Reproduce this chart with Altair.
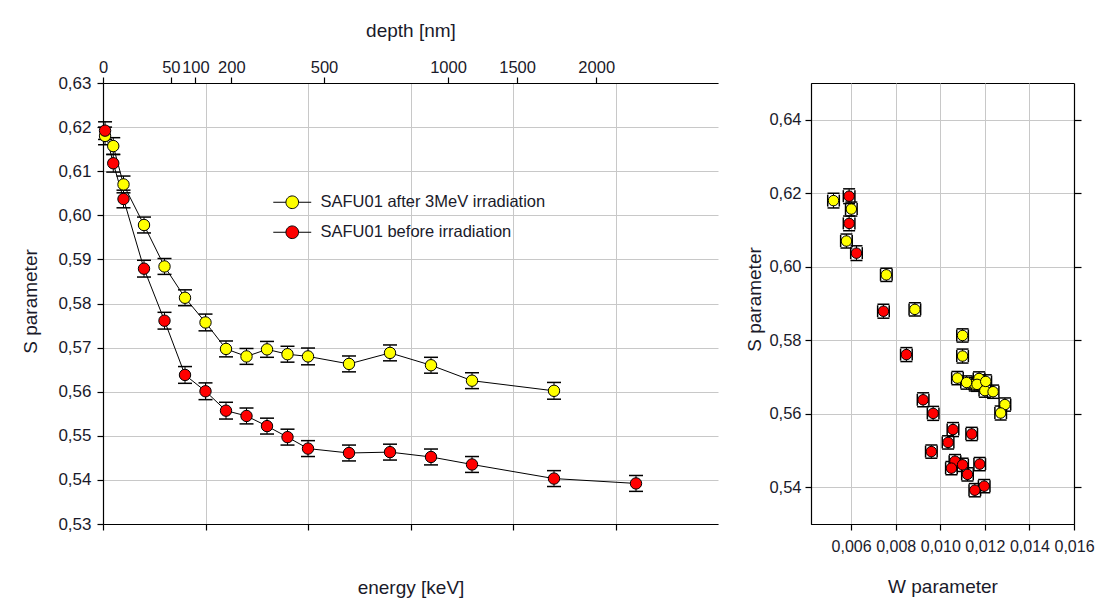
import altair as alt
import pandas as pd

# ---------------- data ----------------
series_names = ["SAFU01 after 3MeV irradiation", "SAFU01 before irradiation"]
series_colors = ["#ffff00", "#ff0000"]

energy_after = [0.1, 0.5, 1, 2, 3, 4, 5, 6, 7, 8, 9, 10, 12, 14, 16, 18, 22]
s_after = [0.6180, 0.6157, 0.6070, 0.5978, 0.5884, 0.5813, 0.5757, 0.5697, 0.5680,
           0.5696, 0.5685, 0.5680, 0.5663, 0.5688, 0.5660, 0.5625, 0.5602]
s_err_after = [0.0020, 0.0019, 0.0019, 0.0018, 0.0018, 0.0018, 0.0019, 0.0018, 0.0018,
               0.0018, 0.0018, 0.0019, 0.0018, 0.0018, 0.0018, 0.0018, 0.0019]
w_after = [0.00521, 0.00601, 0.00579, 0.00758, 0.00886, 0.01100, 0.01100, 0.01077, 0.01155,
           0.01174, 0.01118, 0.01165, 0.01200, 0.01204, 0.01237, 0.01290, 0.01271]

energy_before = [0.1, 0.5, 1, 2, 3, 4, 5, 6, 7, 8, 9, 10, 12, 14, 16, 18, 22, 26]
s_before = [0.6192, 0.6118, 0.6037, 0.5879, 0.5761, 0.5638, 0.5601, 0.5557, 0.5545,
            0.5522, 0.5497, 0.5471, 0.5461, 0.5463, 0.5452, 0.5435, 0.5403, 0.5392]
s_err_before = [0.0020, 0.0020, 0.0020, 0.0019, 0.0019, 0.0019, 0.0019, 0.0019, 0.0018,
                0.0018, 0.0018, 0.0018, 0.0018, 0.0018, 0.0018, 0.0018, 0.0018, 0.0018]
w_before = [0.00591, 0.00591, 0.00624, 0.00745, 0.00848, 0.00923, 0.00968, 0.01057, 0.01141,
            0.01035, 0.00960, 0.01066, 0.01100, 0.01177, 0.01050, 0.01122, 0.01197, 0.01155]
w_err = 0.00026

energy_ticks = [0, 5, 10, 15, 20, 25]
depth_labels = ["0", "50", "100", "200", "500", "1000", "1500", "2000"]
depth_label_energy = [0, 3.31, 4.51, 6.26, 10.78, 16.83, 20.2, 24.06]
s_ticks_left = [0.53, 0.54, 0.55, 0.56, 0.57, 0.58, 0.59, 0.60, 0.61, 0.62, 0.63]
s_ticks_right = [0.54, 0.56, 0.58, 0.60, 0.62, 0.64]
w_ticks = [0.006, 0.008, 0.010, 0.012, 0.014, 0.016]

rows = []
for name, E, S, ES, W in [(series_names[0], energy_after, s_after, s_err_after, w_after),
                          (series_names[1], energy_before, s_before, s_err_before, w_before)]:
    for e, s, es, w in zip(E, S, ES, W):
        rows.append(dict(series=name, energy=e, S=s, lo=s - es, hi=s + es,
                         W=w, wlo=w - w_err, whi=w + w_err))
df = pd.DataFrame(rows)
df_after = df[df.series == series_names[0]]
df_before = df[df.series == series_names[1]]

FONT = "Liberation Sans"
TXT = "#1a1a2a"
GRID = "#c8c8c8"

depth_expr = "".join(
    f"datum.value == {e} ? '{l}' : " for e, l in zip(depth_label_energy, depth_labels)
) + "''"

fill_scale = alt.Scale(domain=series_names, range=series_colors)

# ---------------- left panel ----------------
xs_l = alt.Scale(domain=[0, 30], nice=False, zero=False)
ys_l = alt.Scale(domain=[0.53, 0.63], nice=False, zero=False)

x_bottom = alt.X("energy:Q", scale=xs_l, axis=alt.Axis(
    orient="bottom", values=energy_ticks, labels=False, grid=True, gridColor=GRID,
    tickSize=6, title="energy [keV]", titleY=63, titleBaseline="middle"))
x_top = alt.X("energy:Q", scale=xs_l, axis=alt.Axis(
    orient="top", values=depth_label_energy, labelExpr=depth_expr, grid=False,
    tickSize=6, labelPadding=2, labelFontSize=16.5, labelOverlap=False, labelFlush=False,
    title="depth [nm]", titleY=-53, titleBaseline="middle"))
x_none = alt.X("energy:Q", scale=xs_l, axis=None)

y_axis_l = alt.Axis(
    values=s_ticks_left, labelExpr="replace(format(datum.value, '.2f'), '.', ',')",
    grid=True, gridColor=GRID, tickSize=6, labelPadding=6, labelFontSize=17,
    title="S parameter", titleX=-73, titleY=218, titleAngle=270,
    titleAlign="center", titleBaseline="middle")


def yl(field):
    return alt.Y(field, scale=ys_l, axis=y_axis_l)


line_after = alt.Chart(df_after).mark_line(color="black", strokeWidth=1).encode(x=x_bottom, y=yl("S:Q"))
line_before = alt.Chart(df_before).mark_line(color="black", strokeWidth=1).encode(x=x_top, y=yl("S:Q"))
bars_l = alt.Chart(df).mark_rule(color="black", strokeWidth=1).encode(
    x=x_none, y=yl("lo:Q"), y2="hi:Q")
cap_lo_l = alt.Chart(df).mark_rule(color="black", strokeWidth=1.5, xOffset=-7, x2Offset=7).encode(
    x=x_none, x2="energy:Q", y=yl("lo:Q"))
cap_hi_l = alt.Chart(df).mark_rule(color="black", strokeWidth=1.5, xOffset=-7, x2Offset=7).encode(
    x=x_none, x2="energy:Q", y=yl("hi:Q"))

legend_path = "M-3,0L-1,0M1,0L3,0M-1,0A1,1,0,1,1,1,0A1,1,0,1,1,-1,0Z"
points_l = alt.Chart(df).mark_circle(size=130, opacity=1, stroke="black", strokeWidth=1).encode(
    x=x_none, y=yl("S:Q"),
    fill=alt.Fill("series:N", scale=fill_scale, legend=alt.Legend(
        orient="none", legendX=181, legendY=111, title=None, symbolType=legend_path,
        symbolSize=160, symbolStrokeColor="black", symbolStrokeWidth=1, symbolOpacity=1,
        labelFont=FONT, labelFontSize=16.5, labelColor=TXT, labelOffset=20, labelLimit=400,
        rowPadding=12, padding=0)))

left = alt.layer(line_after, line_before, bars_l, cap_lo_l, cap_hi_l, points_l).resolve_axis(
    x="independent").properties(width=615, height=441)

# ---------------- right panel ----------------
xs_r = alt.Scale(domain=[0.0042, 0.016], nice=False, zero=False)
ys_r = alt.Scale(domain=[0.53, 0.65], nice=False, zero=False)

x_r_axis = alt.X("W:Q", scale=xs_r, axis=alt.Axis(
    values=w_ticks, labelExpr="replace(format(datum.value, '.3f'), '.', ',')",
    grid=True, gridColor=GRID, tickSize=6, labelPadding=8, labelOverlap=False,
    labelFlush=False, labelFontSize=16,
    title="W parameter", titleY=62, titleBaseline="middle"))


def xr(field):
    return alt.X(field, scale=xs_r, axis=None)


y_r_left = alt.Y("S:Q", scale=ys_r, axis=alt.Axis(
    values=s_ticks_right, labelExpr="replace(format(datum.value, '.2f'), '.', ',')",
    grid=True, gridColor=GRID, tickSize=6, labelPadding=4, labelFontSize=16.5,
    title="S parameter", titleX=-57, titleY=216, titleAngle=270,
    titleAlign="center", titleBaseline="middle"))
y_r_right = alt.Y("S:Q", scale=ys_r, axis=alt.Axis(
    orient="right", values=s_ticks_right, labels=False, grid=False, tickSize=7, title=None))
yr_none = alt.Y("S:Q", scale=ys_r, axis=None)

xbar_r = alt.Chart(df).mark_rule(color="black", strokeWidth=1).encode(
    x=xr("wlo:Q"), x2="whi:Q", y=y_r_left)
xcap_lo_r = alt.Chart(df).mark_rule(color="black", strokeWidth=1.5, yOffset=-6, y2Offset=6).encode(
    x=xr("wlo:Q"), y=y_r_right, y2="S:Q")
xcap_hi_r = alt.Chart(df).mark_rule(color="black", strokeWidth=1.5, yOffset=-6, y2Offset=6).encode(
    x=xr("whi:Q"), y=yr_none, y2="S:Q")
ybar_r = alt.Chart(df).mark_rule(color="black", strokeWidth=1).encode(
    x=xr("W:Q"), y=alt.Y("lo:Q", scale=ys_r, axis=None), y2="hi:Q")
ycap_lo_r = alt.Chart(df).mark_rule(color="black", strokeWidth=1.5, xOffset=-6, x2Offset=6).encode(
    x=xr("W:Q"), x2="W:Q", y=alt.Y("lo:Q", scale=ys_r, axis=None))
ycap_hi_r = alt.Chart(df).mark_rule(color="black", strokeWidth=1.5, xOffset=-6, x2Offset=6).encode(
    x=xr("W:Q"), x2="W:Q", y=alt.Y("hi:Q", scale=ys_r, axis=None))
points_r = alt.Chart(df).mark_circle(size=110, opacity=1, stroke="black", strokeWidth=1).encode(
    x=x_r_axis, y=yr_none, fill=alt.Fill("series:N", scale=fill_scale, legend=None))

right = alt.layer(xbar_r, xcap_lo_r, xcap_hi_r, ybar_r, ycap_lo_r, ycap_hi_r, points_r).resolve_axis(
    x="independent", y="independent").properties(
    width=263, height=441, view=alt.ViewBackground(stroke="black", strokeWidth=1))

chart = alt.hconcat(left, right, spacing=93, bounds="flush",
                    padding={"left": 13, "top": 13, "right": 5, "bottom": 5}).resolve_scale(
    fill="independent").resolve_legend(fill="independent").configure_view(
    strokeWidth=0).configure_axis(
    labelFont=FONT, titleFont=FONT, labelColor=TXT, titleColor=TXT,
    titleFontSize=19, titleFontWeight="normal", labelFontSize=17,
    domainColor="black", tickColor="black", domainWidth=1.2, tickWidth=1.2,
    gridWidth=1)

chart.save("out.html", embed_options={"renderer": "svg", "actions": False})
